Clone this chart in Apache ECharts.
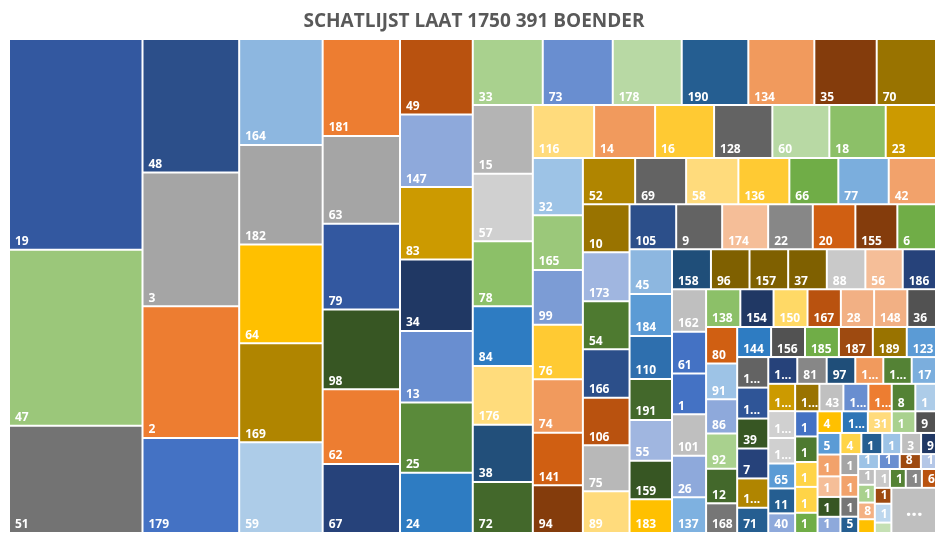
<!DOCTYPE html>
<html>
<head>
<meta charset="utf-8">
<title>Schatlijst laat 1750 391 boender</title>
<script src="https://cdn.jsdelivr.net/npm/echarts@6/dist/echarts.min.js"></script>
<style>
  html, body { margin: 0; padding: 0; background: #fff; }
  #chart { width: 936px; height: 533px; }
</style>
</head>
<body>
<div id="chart"></div>
<script>
// labels as shown in the picture (narrow cells show Excel's cut-off text)
const labels = [
  '19', '47', '51',
  '48', '3', '2', '179',
  '164', '182', '64', '169', '59',
  '181', '63', '79', '98', '62', '67',
  '49', '147', '83', '34', '13', '25', '24',
  '33', '73', '178', '190', '134', '35', '70',
  '15', '57', '78', '84', '176', '38', '72',
  '116', '14', '16', '128', '60', '18', '23',
  '32', '165', '99', '76', '74', '141', '94',
  '52', '69', '58', '136', '66', '77', '42',
  '10', '173', '54', '166', '106', '75', '89',
  '105', '9', '174', '22', '20', '155', '6',
  '45', '184', '110', '191', '55', '159', '183',
  '158', '96', '157', '37', '88', '56', '186',
  '162', '61', '1', '101', '26', '137',
  '138', '154', '150', '167', '28', '148', '36',
  '80', '91', '86', '92', '12', '168',
  '144', '156', '185', '187', '189', '123',
  '1...', '1...', '39', '7', '1...', '71',
  '1...', '81', '97', '1...', '1...', '17',
  '1...', '1...', '1...', '65', '11', '40',
  '1...', '43', '1...', '1...', '8', '1',
  '1', '1', '1', '1', '1',
  '4', '1...', '31', '1', '9',
  '5', '1', '1', '1', '1',
  '4', '1', '1', '3', '9',
  '1', '1', '1', '5',
  '1', '1', '8', '1',
  '1', '1', '8', '1',
  '1', '1', '1', '6',
  '1', '1', '1',
  '...'
];

// estimated sizes, read from the tile areas
const values = [
  28107, 23438, 14314,
  12887, 12906, 12722, 9177,
  8840, 8290, 8223, 8257, 7564,
  7498, 6779, 6625, 6153, 5774, 5334,
  5481, 5278, 5263, 5184, 5212, 5089, 4384,
  4620, 4620, 4554, 4396, 4356, 4118, 3914,
  4122, 4038, 3900, 3582, 3522, 3438, 3060,
  3231, 3215, 3109, 3072, 3004, 2972, 2651,
  2865, 2735, 2735, 2730, 2670, 2630, 2385,
  2421, 2361, 2421, 2361, 2269, 2334, 2190,
  2237, 2283, 2237, 2255, 2218, 2144, 1943,
  2100, 2070, 2070, 2010, 1917, 1890, 1740,
  1895, 1781, 1823, 1738, 1725, 1637, 1429,
  1548, 1532, 1536, 1536, 1532, 1485, 1322,
  1452, 1414, 1394, 1408, 1414, 1214,
  1293, 1255, 1282, 1259, 1255, 1255, 1082,
  1135, 1107, 1063, 1097, 1073, 921,
  1020, 1020, 1020, 1020, 1020, 879,
  949, 961, 930, 930, 911, 784,
  774, 785, 764, 748, 758, 649,
  731, 721, 684, 668, 668, 526,
  666, 658, 685, 641, 647, 567,
  564, 573, 557, 580, 453,
  527, 562, 518, 510, 447,
  493, 499, 470, 454, 370,
  441, 441, 399, 420, 315,
  372, 384, 354, 289,
  309, 310, 315, 225,
  262, 296, 277, 229,
  285, 298, 304, 266,
  262, 312, 172,
  2011
];

// how many tiles Excel put in each strip (the rest goes in the last box)
const stripCounts = [3, 4, 5, 6, 7, 7, 7, 7, 7, 7, 7, 7, 7, 7, 6, 7, 6, 6,
  6, 6, 6, 6, 5, 5, 5, 5, 4, 4, 4, 4, 3];

const tileColors = [
  '#3358A0', '#9BC77A', '#737373',
  '#2C4F8A', '#A5A5A5', '#ED7D31', '#4472C4',
  '#8DB7E0', '#A5A5A5', '#FFC000', '#B08500', '#ADCCE8',
  '#ED7D31', '#A5A5A5', '#3358A0', '#375623', '#ED7D31', '#26427A',
  '#B9520F', '#8EA9DB', '#CC9A00', '#203864', '#698ED0', '#5A8A3A', '#2E7CC2',
  '#A9D18E', '#698ED0', '#B8D9A4', '#255E91', '#F19A5D', '#843C0C', '#997300',
  '#B4B4B4', '#D0D0D0', '#8CC068', '#2E7CC2', '#FFDC7C', '#224F7A', '#43682B',
  '#FFDB7C', '#F19A5D', '#FFCA33', '#636363', '#B8D9A4', '#8CC068', '#CC9A00',
  '#9DC3E6', '#9BC87A', '#7C9CD5', '#FFCA33', '#F19A5D', '#D05F12', '#843C0C',
  '#B08500', '#636363', '#FFDB7C', '#FFCA33', '#70AD47', '#7BAEDD', '#F2A26B',
  '#997300', '#A0B6E0', '#4E7A30', '#2C4F8A', '#B9520F', '#B8B8B8', '#FFDB7C',
  '#2C4F8A', '#636363', '#F5BE98', '#878787', '#D05F12', '#843C0C', '#70AD47',
  '#8DB7E0', '#5B9BD5', '#2E6FAE', '#43682B', '#A0B6E0', '#375623', '#FFC000',
  '#1F4E79', '#7F6000', '#7F6000', '#7F6000', '#C9C9C9', '#F5BE98', '#26427A',
  '#BFBFBF', '#4472C4', '#4472C4', '#BFBFBF', '#8EA9DB', '#7EB1E0',
  '#8CC068', '#203864', '#FFD966', '#B9520F', '#F2B084', '#F2B084', '#525252',
  '#D05F12', '#9DC3E6', '#8EA9DB', '#A9D18E', '#43682B', '#767676',
  '#2E7CC2', '#525252', '#70AD47', '#9E4A10', '#997300', '#5B9BD5',
  '#636363', '#2F5597', '#375623', '#26427A', '#B08500', '#255E91',
  '#26427A', '#878787', '#1F4E79', '#F19A5D', '#548235', '#7BAEDD',
  '#CC9A00', '#D0D0D0', '#D0D0D0', '#5B9BD5', '#255E91', '#8EA9DB',
  '#997300', '#C0C0C0', '#698ED0', '#ED7D31', '#548235', '#ADCCE8',
  '#4472C4', '#4E7A30', '#FFD447', '#FFD447', '#70AD47',
  '#FFC000', '#2E75B6', '#FFDB7C', '#A9D18E', '#525252',
  '#5B9BD5', '#F2A26B', '#F5BE98', '#375623', '#8EA9DB',
  '#FFD447', '#255E91', '#9DC3E6', '#BFBFBF', '#203864',
  '#A5A5A5', '#F2A26B', '#767676', '#255E91',
  '#9DC3E6', '#698ED0', '#9E4A10', '#B4C7E7',
  '#BFBFBF', '#A9D18E', '#F4B183', '#FFC000',
  '#C9C9C9', '#548235', '#878787', '#B9520F',
  '#9E4A10', '#BDD7EE', '#C5E0B4',
  '#BFBFBF'
];

const chart = echarts.init(document.getElementById('chart'));

const leaves = labels.map((name, i) => {
  const item = {
    name: name,
    value: values[i],
    itemStyle: { color: tileColors[i] }
  };
  if (name === '...') {
    item.label = { position: 'inside', fontSize: 20, lineHeight: 20 };
  }
  return item;
});

// each strip is a group, the remaining space is the next group,
// so squarify lays the strips out the way Excel did
function group(children) {
  return { name: '', children: children, itemStyle: { borderWidth: 0, gapWidth: 0 } };
}

const strips = [];
let pos = 0;
stripCounts.forEach(n => {
  strips.push(leaves.slice(pos, pos + n));
  pos += n;
});
let tree = [group(strips[strips.length - 1])].concat(leaves.slice(pos));
for (let k = strips.length - 2; k >= 0; k--) {
  tree = [group(strips[k]), group(tree)];
}

chart.setOption({
  animation: false,
  title: {
    text: 'SCHATLIJST LAAT 1750 391 BOENDER',
    left: 474,
    textAlign: 'center',
    top: 12,
    padding: 0,
    textStyle: {
      fontFamily: 'Open Sans',
      fontWeight: 'bold',
      fontSize: 19,
      color: '#595959'
    }
  },
  tooltip: { show: false },
  series: [
    {
      type: 'treemap',
      left: 8,
      top: 38,
      width: 929,
      height: 496,
      roam: false,
      nodeClick: false,
      sort: false,
      squareRatio: 1,
      visibleMin: 0,
      breadcrumb: { show: false },
      itemStyle: {
        borderColor: '#fff',
        borderWidth: 1,
        gapWidth: 0
      },
      label: {
        show: true,
        position: 'insideBottomLeft',
        distance: 0,
        padding: [0, 4, 2, 5],
        color: '#fff',
        fontFamily: 'Open Sans',
        fontWeight: 'bold',
        fontSize: 12,
        lineHeight: 10,
        overflow: 'none'
      },
      upperLabel: { show: false },
      emphasis: { disabled: true },
      data: tree
    }
  ]
});
</script>
</body>
</html>
